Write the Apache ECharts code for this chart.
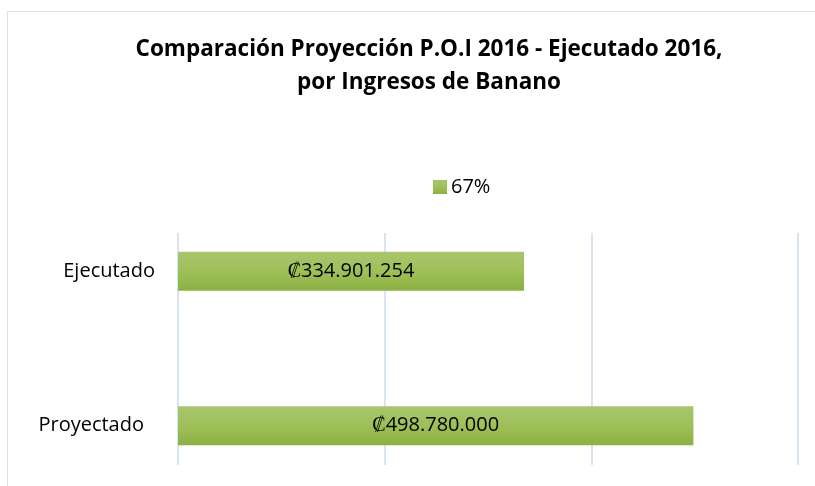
<!DOCTYPE html>
<html>
<head>
<meta charset="utf-8">
<script src="https://cdn.jsdelivr.net/npm/echarts@6/dist/echarts.min.js"></script>
<style>
  html, body { margin: 0; padding: 0; overflow: hidden; background: #fff; }
  #frame { position: absolute; left: 7px; top: 11px; width: 900px; height: 600px; border: 1px solid #d6e2f2; }
  #main { position: absolute; left: 0; top: 0; width: 815px; height: 486px; }
</style>
</head>
<body>
<div id="frame"></div>
<div id="main"></div>
<script>
var categories = ["Ejecutado", "Proyectado"];
var values = [334901254, 498780000];
var seriesName = "67%";
var titleText = "Comparación Proyección P.O.I 2016 - Ejecutado 2016,\npor Ingresos de Banano";

function colones(v) {
  return "₡" + String(v).replace(/\B(?=(\d{3})+(?!\d))/g, ".");
}

var font = "Open Sans";
var chart = echarts.init(document.getElementById("main"));
var option = {
  animation: false,
  title: {
    text: titleText,
    left: 424,
    textAlign: "center",
    top: 28,
    textStyle: { fontFamily: font, fontSize: 22.5, fontWeight: "bold", color: "#000", lineHeight: 33 }
  },
  legend: {
    data: [seriesName],
    left: 433,
    top: 177,
    padding: 0,
    icon: "rect",
    itemWidth: 14,
    itemHeight: 14,
    itemGap: 6,
    textStyle: { fontFamily: font, fontSize: 20, color: "#000", padding: [0, 0, 0, -1] }
  },
  grid: [
    { left: 178, width: 620, top: 194, height: 309, outerBoundsMode: "none" },
    { left: 178, width: 620, top: 233, height: 232, outerBoundsMode: "none" }
  ],
  xAxis: [
    {
      gridIndex: 0, type: "value", min: 0, max: 600000000, interval: 200000000,
      axisLine: { show: false }, axisTick: { show: false }, axisLabel: { show: false },
      splitLine: { show: false }
    },
    {
      gridIndex: 1, type: "value", min: 0, max: 600000000, interval: 200000000,
      axisLine: { show: false }, axisTick: { show: false }, axisLabel: { show: false },
      splitLine: { show: true, lineStyle: { color: "#d9e4f2", width: 2 } }
    }
  ],
  yAxis: [
    {
      gridIndex: 0, type: "category", data: categories, inverse: true,
      axisLine: { show: false }, axisTick: { show: false },
      axisLabel: {
        margin: 23, fontFamily: font, fontSize: 20, color: "#000",
        formatter: function (v, i) { return i === 1 ? "{p|" + v + "}" : v; },
        rich: { p: { fontFamily: font, fontSize: 20, color: "#000", padding: [0, 11, 0, 0] } }
      }
    },
    {
      gridIndex: 1, type: "value", min: 0, max: 1, show: false, splitLine: { show: false }
    }
  ],
  series: [
    {
      name: seriesName,
      type: "bar",
      xAxisIndex: 0,
      yAxisIndex: 0,
      data: values,
      barWidth: 39,
      itemStyle: {
        color: new echarts.graphic.LinearGradient(0, 0, 0, 1, [
          { offset: 0, color: "#a9c56e" },
          { offset: 0.5, color: "#9fc058" },
          { offset: 1, color: "#8cb043" }
        ])
      },
      label: {
        show: true,
        position: "inside",
        color: "#000",
        fontFamily: font,
        fontSize: 20,
        formatter: function (p) { return colones(p.value); }
      }
    },
    {
      name: "grid",
      type: "scatter",
      xAxisIndex: 1,
      yAxisIndex: 1,
      data: [],
      silent: true
    }
  ]
};
chart.setOption(option);
</script>
</body>
</html>
